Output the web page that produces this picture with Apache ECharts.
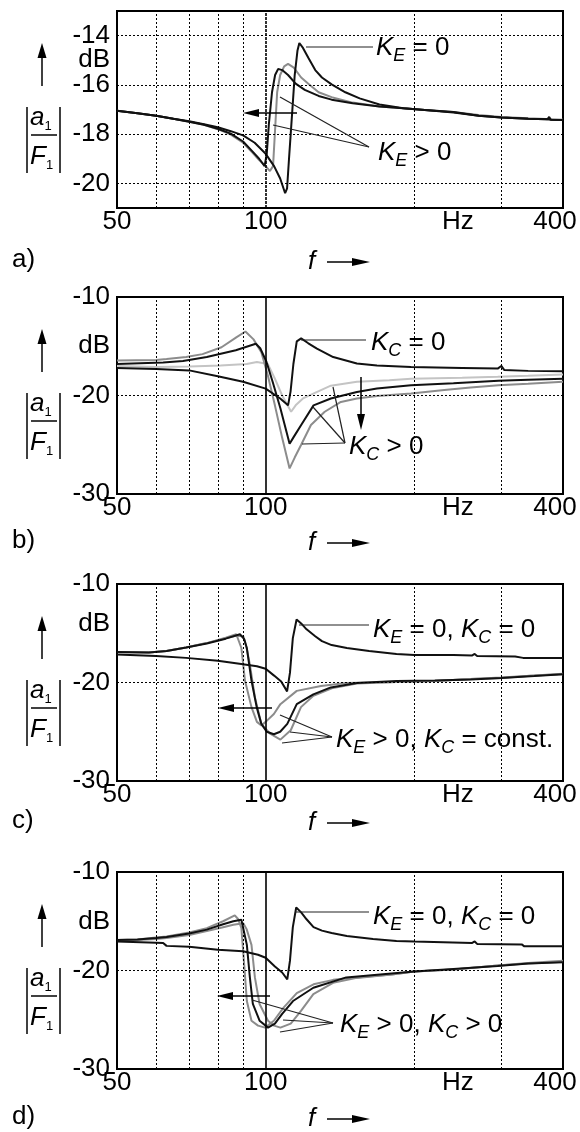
<!DOCTYPE html>
<html>
<head>
<meta charset="utf-8">
<script src="https://cdn.jsdelivr.net/npm/echarts@6/dist/echarts.min.js"></script>
<style>
  html, body { margin: 0; padding: 0; background: #fff; }
  #chart { width: 580px; height: 1132px; }
</style>
</head>
<body>
<div id="chart"></div>
<script>
// axis labels and grid lines (Hz / dB)
const xLabelValues = [50, 100, 245, 400]   // 245 carries the "Hz" unit label
const xGridValues = [60, 70, 80, 90, 200, 300]
const yLabelsA = [-20, -18, -16, -14]
const yLabelsBCD = [-30, -20, -10]
const panelNames = ['a)', 'b)', 'c)', 'd)']

// a) K_E variation
const a_KE0 = [[50,-17.05],[55,-17.15],[60,-17.25],[65,-17.38],[70,-17.48],[75,-17.6],[80,-17.72],[85,-17.88],[90,-18.05],[95,-18.35],[100,-18.8],[104,-19.3],[107,-19.8],[109.5,-20.4],[110.5,-20.2],[111.5,-19.0],[113,-17.3],[114.5,-15.6],[116,-14.6],[117,-14.3],[119,-14.5],[122,-14.9],[126,-15.4],[130,-15.7],[136,-15.98],[145,-16.3],[155,-16.55],[170,-16.8],[190,-16.95],[210,-17.02],[240,-17.1],[270,-17.25],[300,-17.32],[340,-17.38],[372,-17.4],[375,-17.3],[378,-17.42],[400,-17.43]]
const a_KE1 = [[50,-17.05],[55,-17.15],[60,-17.25],[65,-17.38],[70,-17.5],[75,-17.62],[80,-17.78],[85,-17.98],[90,-18.3],[94,-18.7],[97,-19.0],[99.5,-19.3],[100.5,-18.8],[101.5,-17.6],[103,-16.3],[104.5,-15.6],[106,-15.35],[108,-15.4],[111,-15.6],[115,-15.95],[120,-16.2],[128,-16.45],[136,-16.6],[150,-16.75],[170,-16.88],[190,-16.95],[210,-17.02],[240,-17.12],[270,-17.25],[300,-17.32],[340,-17.38],[372,-17.4],[375,-17.32],[378,-17.42],[400,-17.43]]
const a_KE2 = [[50,-17.05],[55,-17.15],[60,-17.25],[65,-17.38],[70,-17.5],[75,-17.62],[80,-17.8],[85,-18.02],[90,-18.35],[94,-18.75],[97,-19.05],[100,-19.3],[102,-19.5],[103.5,-19.3],[104.5,-17.8],[105.5,-16.3],[107,-15.6],[109,-15.25],[111,-15.15],[114,-15.3],[118,-15.7],[122,-15.95],[128,-16.3],[136,-16.5],[150,-16.72],[170,-16.88],[190,-16.95],[210,-17.02],[240,-17.1],[270,-17.22],[300,-17.3],[340,-17.36],[400,-17.42]]

// b) K_C variation
const b_KC0 = [[50,-17.2],[60,-17.3],[70,-17.45],[80,-18.05],[90,-18.6],[100,-19.3],[107,-20.3],[111,-21.0],[112.3,-19.6],[113.8,-16.8],[115.6,-14.5],[118,-14.2],[122,-14.7],[127,-15.25],[137,-16.1],[153,-16.75],[168,-16.95],[197,-17.1],[250,-17.2],[295,-17.27],[300,-17.0],[304,-17.4],[340,-17.5],[400,-17.55]]
const b_KC1 = [[50,-16.45],[60,-16.4],[63,-16.3],[69,-16.1],[74.5,-15.8],[81.4,-15.1],[87.2,-14.1],[91,-13.5],[94.5,-14.3],[98,-15.6],[101,-17.95],[104.4,-21.0],[108,-24.3],[111.8,-27.4],[114.5,-26.3],[118,-25.0],[123.5,-23.0],[131.7,-21.65],[142,-20.65],[153,-20.3],[168,-20.05],[197,-19.8],[230,-19.45],[260,-19.2],[296,-18.95],[340,-18.8],[400,-18.6]]
const b_KC2 = [[50,-16.8],[62,-16.65],[68,-16.5],[76,-16.1],[87,-15.4],[95.5,-14.75],[97.5,-15.2],[100.4,-16.6],[103.3,-18.6],[107.1,-21.3],[111.8,-24.9],[114,-24.2],[118,-23.0],[125,-21.0],[135.5,-20.3],[153,-19.65],[168,-19.3],[197,-18.95],[240,-18.75],[296,-18.5],[340,-18.4],[400,-18.3]]
const b_KC3 = [[50,-17.0],[60,-17.1],[70,-17.05],[81,-16.95],[91.5,-16.8],[96,-16.6],[101,-16.8],[104.4,-18.3],[108,-20.0],[112.6,-21.65],[115,-21.0],[119,-20.3],[126.8,-19.65],[135.5,-19.0],[153,-18.6],[178,-18.45],[197,-18.3],[250,-18.2],[295,-18.1],[340,-18.0],[400,-17.88]]

// c) K_E variation, K_C const.
const c_K00 = [[50,-17.15],[60,-17.3],[69,-17.5],[80,-17.8],[88.5,-18.1],[96,-18.35],[100,-18.6],[104,-19.3],[107.5,-19.9],[110.5,-20.9],[112,-19.0],[113.5,-15.5],[115.5,-13.6],[118,-14.0],[121,-14.6],[126,-15.3],[130,-15.8],[136,-16.2],[146,-16.5],[162,-16.8],[184,-17.1],[200,-17.2],[240,-17.22],[262,-17.25],[265,-17.1],[268,-17.3],[320,-17.35],[332,-17.5],[400,-17.5]]
const c_KE1 = [[50,-16.9],[58,-16.95],[63,-16.8],[69,-16.45],[76,-16.0],[83,-15.45],[87.2,-15.1],[89.3,-16.5],[90.8,-19.8],[93.6,-22.5],[96,-24.0],[98,-24.35],[100,-24.0],[103.9,-23.2],[107.1,-22.2],[115.6,-20.85],[129.4,-20.35],[145.6,-20.05],[184,-19.95],[220,-19.85],[260,-19.65],[300,-19.55],[350,-19.3],[400,-19.15]]
const c_KE2 = [[50,-16.9],[58,-16.95],[63,-16.8],[69,-16.45],[76,-16.05],[83,-15.55],[88.7,-15.1],[90.5,-15.6],[91.6,-16.5],[93.6,-19.8],[95.9,-22.5],[98,-24.2],[100.5,-25.0],[103.9,-25.25],[107,-25.0],[110.6,-24.2],[115.6,-22.2],[124.9,-21.2],[135.5,-20.5],[153,-20.05],[184,-19.85],[220,-19.8],[260,-19.7],[300,-19.55],[350,-19.35],[400,-19.15]]
const c_KE3 = [[50,-16.9],[58,-16.95],[63,-16.8],[69,-16.45],[76,-16.0],[83,-15.5],[87,-15.25],[90.1,-15.3],[91.5,-16.5],[92.9,-18.2],[95.1,-21.5],[98,-24.2],[102.1,-25.2],[107.1,-25.8],[112.4,-24.85],[117.9,-22.5],[124.9,-21.35],[136.9,-20.55],[153,-20.1],[184,-19.95],[220,-19.85],[260,-19.65],[300,-19.5],[350,-19.3],[400,-19.1]]

// d) K_E and K_C variation
const d_K00 = [[50,-17.05],[58,-17.15],[62,-17.2],[63,-17.5],[70,-17.6],[80,-17.9],[90,-18.05],[96.5,-18.4],[100,-18.7],[104.4,-19.6],[108,-20.2],[110.6,-20.9],[112,-19.0],[113.5,-15.6],[115.3,-13.6],[118,-14.1],[121,-14.8],[125,-15.6],[130,-15.95],[136,-16.2],[146,-16.5],[165,-16.8],[184,-17.0],[200,-17.05],[262,-17.2],[265,-17.05],[268,-17.3],[330,-17.35],[334,-17.55],[400,-17.55]]
const d_KE1 = [[50,-16.9],[55,-16.85],[60,-16.65],[63,-16.55],[70,-16.15],[76,-15.7],[82,-15.0],[86.6,-14.4],[88,-14.8],[89.3,-15.7],[90.5,-19.5],[91.6,-23.1],[93.6,-25.1],[96.5,-25.6],[99.7,-25.8],[103.9,-25.1],[108.6,-23.8],[115.6,-22.3],[125,-21.4],[137,-20.95],[153,-20.7],[180,-20.4],[200,-20.1],[240,-19.9],[295,-19.5],[340,-19.3],[400,-19.1]]
const d_KE2 = [[50,-16.9],[55,-16.85],[60,-16.7],[63,-16.6],[70,-16.25],[76,-15.85],[82,-15.3],[86,-15.0],[89.3,-14.85],[91.6,-17.4],[92.9,-20.7],[94.2,-23.4],[97.2,-25.1],[101.1,-25.8],[104.4,-25.4],[108,-24.4],[113.6,-23.1],[124.9,-21.75],[145.6,-20.7],[170.5,-20.4],[200,-20.1],[240,-19.85],[295,-19.55],[340,-19.3],[400,-19.15]]
const d_KE3 = [[50,-16.95],[55,-16.9],[60,-16.8],[63,-16.7],[70,-16.4],[76,-16.0],[82,-15.6],[86,-15.35],[90.1,-15.2],[91.5,-15.8],[93.6,-17.4],[95.1,-20.7],[97.2,-23.4],[101.1,-25.1],[104,-25.6],[107.1,-25.8],[112.4,-25.4],[117.9,-24.1],[124.9,-22.4],[136.9,-21.25],[153,-20.75],[180,-20.4],[200,-20.1],[240,-19.9],[295,-19.5],[340,-19.25],[400,-19.0]]

const BLACK = '#111'
const GREY = '#8c8c8c'
const LIGHT = '#c4c4c4'
const FONT = "'Liberation Sans', Arial, sans-serif"
const FS = 26

const panelTops = [11, 297, 584, 872]
const plotLeft = 117
const plotWidth = 446
const plotHeight = 197

function curve (data, color, p) {
  return {
    type: 'line',
    xAxisIndex: p,
    yAxisIndex: p,
    data: data,
    symbol: 'none',
    silent: true,
    z: 3,
    lineStyle: { color: color, width: 2 },
    itemStyle: { color: color }
  }
}

// dotted grid drawn as mark lines under the curves
function gridSeries (p, hLines) {
  let lines = xGridValues.map(v => ({ xAxis: v }))
  // the 100 Hz line is heavier (dashed in a, solid below)
  lines.push({ xAxis: 100, lineStyle: { type: p === 0 ? [3, 1] : 'solid', width: 1.6 } })
  hLines.forEach(v => lines.push({ yAxis: v }))
  return {
    type: 'line',
    xAxisIndex: p,
    yAxisIndex: p,
    data: [],
    z: 1,
    silent: true,
    markLine: {
      silent: true,
      animation: false,
      symbol: ['none', 'none'],
      label: { show: false },
      lineStyle: { color: '#000', width: 1, type: [2, 2] },
      data: lines
    }
  }
}

let grids = []
let xAxes = []
let yAxes = []
panelTops.forEach(function (top, p) {
  grids.push({
    left: plotLeft, top: top, width: plotWidth, height: plotHeight,
    show: true, borderColor: '#000', borderWidth: 2, backgroundColor: 'transparent'
  })
  xAxes.push({
    type: 'log', logBase: 10, gridIndex: p, min: 50, max: 400,
    axisLine: { show: false }, axisTick: { show: false }, splitLine: { show: false },
    axisLabel: {
      customValues: xLabelValues,
      margin: 1,
      hideOverlap: false,
      color: '#000', fontFamily: FONT, fontSize: FS,
      formatter: function (v) {
        if (Math.abs(v - 245) < 1) return 'Hz'
        if (Math.abs(v - 400) < 1) return '{e|400}'
        return String(Math.round(v))
      },
      rich: { e: { fontFamily: FONT, fontSize: FS, color: '#000', padding: [0, 16, 0, 0] } }
    }
  })
  yAxes.push({
    type: 'value', gridIndex: p,
    min: p === 0 ? -21 : -30, max: p === 0 ? -13 : -10,
    axisLine: { show: false }, axisTick: { show: false }, splitLine: { show: false },
    axisLabel: {
      customValues: p === 0 ? yLabelsA : yLabelsBCD,
      margin: 7,
      color: '#000', fontFamily: FONT, fontSize: FS
    }
  })
})

let series = [
  gridSeries(0, yLabelsA), gridSeries(1, [-20]), gridSeries(2, [-20]), gridSeries(3, [-20]),
  curve(a_KE2, GREY, 0), curve(a_KE1, BLACK, 0), curve(a_KE0, BLACK, 0),
  curve(b_KC3, LIGHT, 1), curve(b_KC1, GREY, 1), curve(b_KC2, BLACK, 1), curve(b_KC0, BLACK, 1),
  curve(c_KE1, GREY, 2), curve(c_KE3, GREY, 2), curve(c_KE2, BLACK, 2), curve(c_K00, BLACK, 2),
  curve(d_KE1, GREY, 3), curve(d_KE3, GREY, 3), curve(d_KE2, BLACK, 3), curve(d_K00, BLACK, 3)
]

// ---- annotation graphics (pixel positions) ----
let gfx = []
function line (x1, y1, x2, y2, w, color) {
  gfx.push({ type: 'line', shape: { x1: x1, y1: y1, x2: x2, y2: y2 }, style: { stroke: color || '#222', lineWidth: w || 1.2 }, z: 10 })
}
function arrow (x1, y1, x2, y2, w, headLen, headW) {
  const ang = Math.atan2(y2 - y1, x2 - x1)
  const bx = x2 - headLen * Math.cos(ang)
  const by = y2 - headLen * Math.sin(ang)
  line(x1, y1, bx, by, w || 1.5, '#000')
  const nx = -Math.sin(ang) * headW / 2
  const ny = Math.cos(ang) * headW / 2
  gfx.push({ type: 'polygon', shape: { points: [[x2, y2], [bx + nx, by + ny], [bx - nx, by - ny]] }, style: { fill: '#000' }, z: 10 })
}
function text (x, y, str, opts) {
  gfx.push({
    type: 'text', x: x, y: y, z: 11,
    style: Object.assign({
      text: str, fill: '#000', font: FS + 'px ' + FONT, verticalAlign: 'middle',
      rich: {
        k: { fontFamily: FONT, fontSize: FS, fontStyle: 'italic', lineHeight: 34 },
        s: { fontFamily: FONT, fontSize: 18, fontStyle: 'italic', lineHeight: 34, verticalAlign: 'bottom' },
        t: { fontFamily: FONT, fontSize: FS, lineHeight: 34 }
      }
    }, opts || {})
  })
}

const fracRich = {
  a: { fontFamily: FONT, fontSize: FS, fontStyle: 'italic', lineHeight: 30 },
  n: { fontFamily: FONT, fontSize: 13, lineHeight: 30, verticalAlign: 'bottom' }
}
// unit "dB" on the left of each value axis
const dbY = [60, 346, 624, 922]
panelTops.forEach(function (T, p) {
  text(110, dbY[p], 'dB', { align: 'right' })
  // |a1/F1| with upward arrow
  arrow(42, T + 75, 42, T + 32, 1.5, 15, 9)
  line(27, T + 96, 27, T + 162, 1.5, '#000')
  line(60, T + 96, 60, T + 162, 1.5, '#000')
  line(31, T + 124, 57, T + 124, 1.5, '#000')
  text(30, T + 107, '{a|a}{n|1}', { rich: fracRich })
  text(30, T + 146, '{a|F}{n|1}', { rich: fracRich })
})

// panel letters and "f ->"
const letterY = [260, 541, 821, 1117]
letterY.forEach(function (y, p) {
  text(12, y, panelNames[p])
  text(308, y + 2, 'f', { font: 'italic ' + FS + 'px ' + FONT })
  arrow(327, y + 2, 370, y + 2, 1.5, 18, 8)
})

// a)
line(306, 47, 373, 47)
text(376, 48, '{k|K}{s|E}{t| = 0}')
line(280, 97, 369, 147)
line(273, 125, 369, 147)
text(378, 153, '{k|K}{s|E}{t| > 0}')
arrow(297, 113, 243, 113, 1.5, 16, 8)

// b)
line(301, 340, 366, 340)
text(371, 343, '{k|K}{s|C}{t| = 0}')
line(345, 443, 302, 444)
line(345, 443, 313, 407)
line(345, 443, 333, 387)
text(349, 447, '{k|K}{s|C}{t| > 0}')
arrow(361, 377, 361, 430, 1.5, 16, 8)

// c)
line(299, 625, 369, 625)
text(373, 630, '{k|K}{s|E}{t| = 0, }{k|K}{s|C}{t| = 0}')
line(332, 737, 280, 715)
line(332, 737, 290, 732)
line(332, 737, 282, 743)
text(336, 740, '{k|K}{s|E}{t| > 0, }{k|K}{s|C}{t| = const.}')
arrow(272, 708, 218, 708, 1.5, 16, 8)

// d)
line(295, 912, 369, 912)
text(373, 917, '{k|K}{s|E}{t| = 0, }{k|K}{s|C}{t| = 0}')
line(333, 1023, 252, 1000)
line(333, 1023, 283, 1020)
line(333, 1023, 280, 1032)
text(340, 1025, '{k|K}{s|E}{t| > 0, }{k|K}{s|C}{t| > 0}')
arrow(270, 996, 217, 996, 1.5, 16, 8)

const chart = echarts.init(document.getElementById('chart'))
chart.setOption({
  animation: false,
  backgroundColor: '#fff',
  grid: grids,
  xAxis: xAxes,
  yAxis: yAxes,
  series: series,
  graphic: gfx
})
</script>
</body>
</html>
